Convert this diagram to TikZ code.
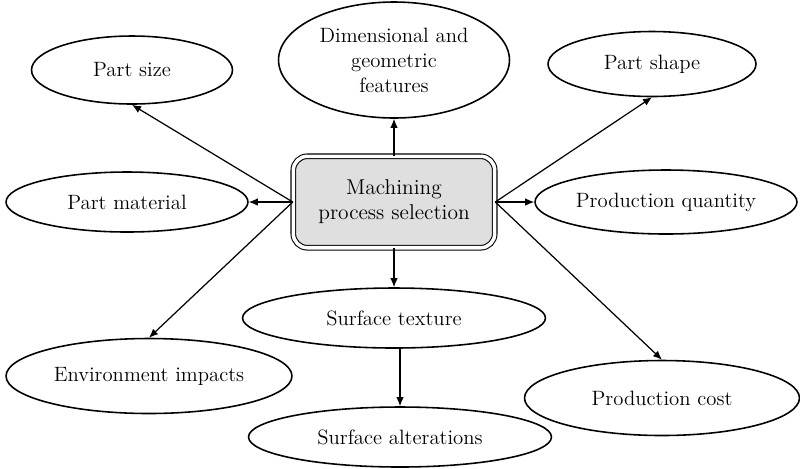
\documentclass[tikz,border=0pt]{standalone}
\usepackage{amsmath}
\usepackage{tikz}
\usetikzlibrary{shapes.geometric,arrows.meta}

\begin{document}
\begin{tikzpicture}[
            x=0.02cm,
            y=-0.02cm,
            factor/.style={
                ellipse,
                draw,
                line width=0.9pt,
                inner sep=0pt,
                align=center,
                font=\fontsize{11.8}{14.2}\selectfont
            },
            centre/.style={
                draw,
                double,
                double distance=2pt,
                line width=0.6pt,
                fill=gray!25,
                rounded corners=8pt,
                minimum width=4.03cm,
                minimum height=1.83cm,
                align=center,
                font=\fontsize{12.2}{14.2}\selectfont
            },
            link/.style={
                line width=0.7pt,
                -{Latex[length=1.8mm,width=1.5mm]}
            }
        ]
            \useasboundingbox (0,0) rectangle (800,468);
            \node[centre] (sel) at (394,202) {Machining\\process selection};
            \node[factor, minimum width=4.62cm, minimum height=2.32cm] (dim) at (394,60) {Dimensional and\\geometric\\features};
            \node[factor, minimum width=4.02cm, minimum height=1.36cm] (psize) at (132,70) {Part size};
            \node[factor, minimum width=4.16cm, minimum height=1.30cm] (pshape) at (652,64) {Part shape};
            \node[factor, minimum width=4.84cm, minimum height=1.20cm] (pmat) at (127,202) {Part material};
            \node[factor, minimum width=5.24cm, minimum height=1.28cm] (pqty) at (666,202) {Production quantity};
            \node[factor, minimum width=6.06cm, minimum height=1.20cm] (stex) at (394,318) {Surface texture};
            \node[factor, minimum width=5.72cm, minimum height=1.50cm] (env) at (149,376) {Environment impacts};
            \node[factor, minimum width=6.06cm, minimum height=1.20cm] (salt) at (400,437) {Surface alterations};
            \node[factor, minimum width=5.50cm, minimum height=1.50cm] (pcost) at (662,398) {Production cost};
            \draw[link] (sel.north) -- (dim.south);
            \draw[link] (sel.west) -- (psize.south);
            \draw[link] (sel.west) -- (pmat.east);
            \draw[link] (sel.west) -- (env.north);
            \draw[link] (sel.east) -- (pshape.south);
            \draw[link] (sel.east) -- (pqty.west);
            \draw[link] (sel.east) -- (pcost.north);
            \draw[link] (sel.south) -- (stex.north);
            \draw[link] (salt.north |- stex.south) -- (salt.north);
        \end{tikzpicture}
\end{document}
